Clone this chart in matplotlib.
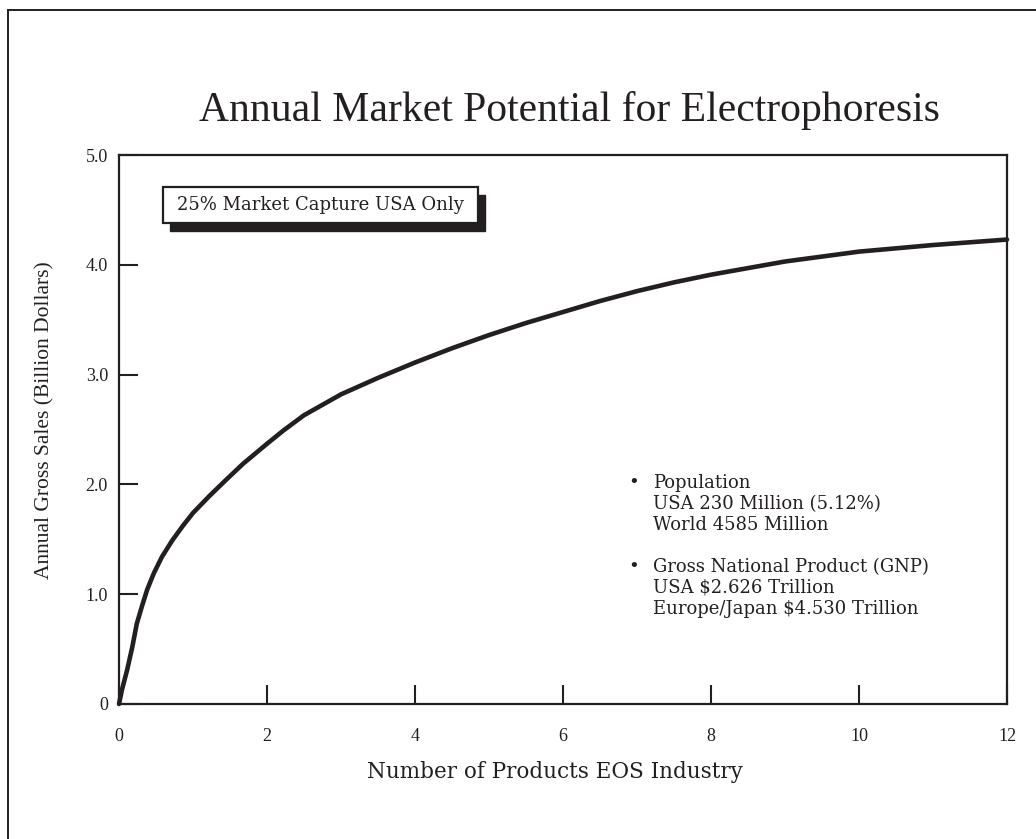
import matplotlib

matplotlib.use("Agg")
import matplotlib.pyplot as plt
from matplotlib.patches import Rectangle

# curve
products = [0, 0.04, 0.11, 0.18, 0.24, 0.31, 0.38, 0.47, 0.58, 0.72, 0.86,
            1.0, 1.23, 1.46, 1.68, 2.0, 2.22, 2.5, 3, 3.5, 4, 4.5, 5, 5.5,
            6, 6.5, 7, 7.5, 8, 9, 10, 11, 12]
sales = [0, 0.13, 0.31, 0.52, 0.73, 0.89, 1.04, 1.19, 1.34, 1.49, 1.62,
         1.74, 1.90, 2.05, 2.19, 2.37, 2.49, 2.63, 2.82, 2.97, 3.11, 3.24,
         3.36, 3.47, 3.57, 3.67, 3.76, 3.84, 3.91, 4.03, 4.12, 4.18, 4.23]

x_ticks = [0, 2, 4, 6, 8, 10, 12]
y_ticks = [0, 1, 2, 3, 4, 5]
y_tick_labels = ["0", "1.0", "2.0", "3.0", "4.0", "5.0"]

title = "Annual Market Potential for Electrophoresis"
box_label = "25% Market Capture USA Only"
notes = ("Population\nUSA 230 Million (5.12%)\nWorld 4585 Million\n\n"
         "Gross National Product (GNP)\nUSA $2.626 Trillion\n"
         "Europe/Japan $4.530 Trillion")

INK = "#231f20"
NARROW = ["Liberation Serif", "DejaVu Serif"]
WIDE = ["DejaVu Serif"]
plt.rcParams["font.family"] = NARROW

W, H = 1036, 839
fig = plt.figure(figsize=(W / 100, H / 100), dpi=100)

# page frame, runs off the right and bottom edge
fig.add_artist(Rectangle((8 / W, -0.05), 1.1, (H - 10) / H + 0.05,
                         transform=fig.transFigure, fill=False,
                         edgecolor=INK, linewidth=1.4, clip_on=False))

ax = fig.add_axes([119 / W, (H - 704) / H, 888 / W, 549 / H])
ax.plot(products, sales, color=INK, linewidth=3.3, solid_capstyle="round",
        solid_joinstyle="round", clip_on=False, zorder=3)

ax.set_xlim(0, 12)
ax.set_ylim(0, 5)
ax.set_xticks(x_ticks)
ax.set_yticks(y_ticks)
ax.set_yticklabels(y_tick_labels)
ax.tick_params(direction="in", length=14, width=1.5, color=INK,
               labelsize=13, labelcolor=INK)
ax.tick_params(axis="x", pad=17)
ax.tick_params(axis="y", pad=8)
for s in ax.spines.values():
    s.set_linewidth(1.6)
    s.set_color(INK)

ax.set_xlabel("Number of Products EOS Industry", fontsize=15.5, color=INK,
              family=WIDE)
ax.xaxis.set_label_coords((555 - 119) / 888, -(772 - 704) / 549)
ax.set_ylabel("Annual Gross Sales (Billion Dollars)", fontsize=15.5,
              color=INK)
ax.yaxis.set_label_coords(-(119 - 45) / 888, (704 - 420) / 549)
ax.yaxis.label.set_va("center")
ax.xaxis.label.set_va("center")

fig.text(569 / W, 1 - 110 / H, title, fontsize=30, color=INK,
         ha="center", va="center")

# boxed label with drop shadow
ax.add_patch(Rectangle((0.057, 0.862), 0.355, 0.066, transform=ax.transAxes,
                       facecolor=INK, edgecolor=INK, zorder=4))
ax.add_patch(Rectangle((0.0495, 0.876), 0.355, 0.066, transform=ax.transAxes,
                       facecolor="white", edgecolor=INK, linewidth=1.6,
                       zorder=5))
ax.text(0.227, 0.909, box_label, transform=ax.transAxes, fontsize=13,
        color=INK, family=WIDE, ha="center", va="center", zorder=6)

ax.text((653 - 119) / 888, (704 - 474) / 549, notes, transform=ax.transAxes,
        fontsize=13, color=INK, family=WIDE, ha="left", va="top",
        linespacing=1.21)
ax.text((628 - 119) / 888, (704 - 474) / 549, "•\n\n\n\n•",
        transform=ax.transAxes, fontsize=13, color=INK, family=WIDE,
        ha="left", va="top", linespacing=1.21)

fig.savefig("out.png", dpi=100)
